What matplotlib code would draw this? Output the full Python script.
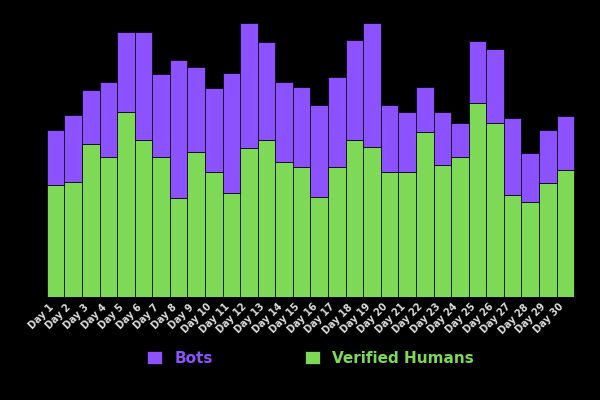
import matplotlib.pyplot as plt
import numpy as np

# pixel-read values (height from baseline)
humans = [112, 115, 153, 140, 185, 157, 140, 99, 145, 125, 104, 149, 157, 135,
          130, 100, 130, 157, 150, 125, 125, 165, 132, 140, 194, 174, 102, 95, 114, 127]
bots = [55, 67, 54, 75, 80, 108, 83, 138, 85, 84, 120, 125, 98, 80,
        80, 92, 90, 100, 124, 67, 60, 45, 53, 34, 62, 74, 77, 49, 53, 54]
labels = [f"Day {i + 1}" for i in range(len(humans))]

purple = "#8c52ff"
green = "#7ed957"

fig, ax = plt.subplots(figsize=(6, 4), dpi=100)
fig.patch.set_facecolor("black")
ax.set_facecolor("black")
x = np.arange(len(humans))
ax.bar(x, humans, width=1.0, color=green, edgecolor="black", linewidth=0.5, label="Verified Humans")
ax.bar(x, bots, width=1.0, bottom=humans, color=purple, edgecolor="black", linewidth=0.5, label="Bots")
ax.set_xlim(-0.6, len(humans) - 0.4)
ax.set_ylim(0, 285)
ax.set_xticks(x)
ax.set_xticklabels(labels, rotation=45, ha="right", color="#dddddd", fontsize=7, fontweight="heavy")
ax.tick_params(length=0)
ax.set_yticks([])
for s in ax.spines.values():
    s.set_visible(False)
h, l = ax.get_legend_handles_labels()
leg = ax.legend(h[::-1], l[::-1], loc="upper center", bbox_to_anchor=(0.5, -0.14), ncol=2,
                frameon=False, handlelength=1, handleheight=1, columnspacing=6,
                prop={"weight": "heavy", "size": 11})
for t, c in zip(leg.get_texts(), [purple, green]):
    t.set_color(c)
fig.subplots_adjust(left=0.075, right=0.96, top=0.97, bottom=0.2575)
fig.savefig("out.png", facecolor="black")
